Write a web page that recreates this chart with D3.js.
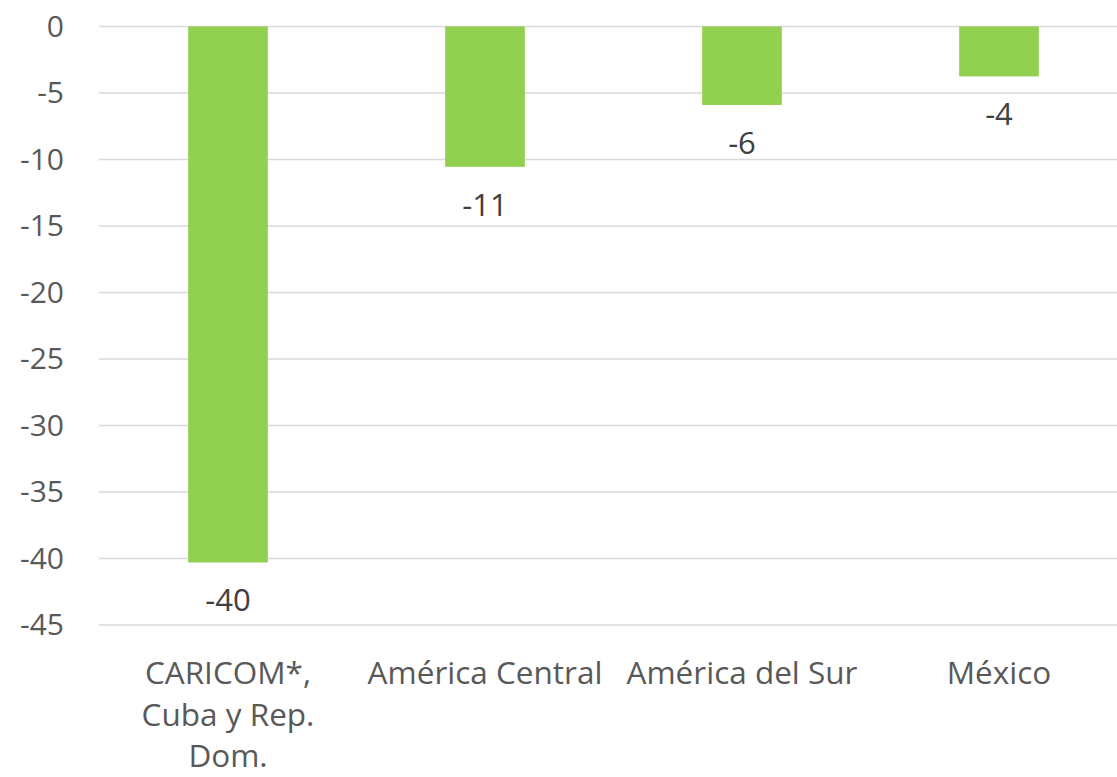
<!DOCTYPE html>
<html>
<head>
<meta charset="utf-8">
<script src="https://cdn.jsdelivr.net/npm/d3@7"></script>
<style>
  body { margin: 0; background: #fff; }
  svg text { font-family: "Open Sans", "Noto Sans", sans-serif; }
</style>
</head>
<body>
<svg id="chart"></svg>
<script>
// data
let categories = [['CARICOM*,', 'Cuba y Rep.', 'Dom.'], ['América Central'], ['América del Sur'], ['México']]
let values = [-40.3, -10.55, -5.9, -3.75]
let labels = ['-40', '-11', '-6', '-4']
let yTicks = [0, -5, -10, -15, -20, -25, -30, -35, -40, -45]

let width = 1117
let height = 777

let svg = d3.select('#chart').attr('width', width).attr('height', height)

let xScale = d3.scaleBand()
  .domain(d3.range(values.length))
  .range([99.5, 1127.5])
  .paddingInner(0.69)
  .paddingOuter(0.345)

let yScale = d3.scaleLinear()
  .domain([0, -45])
  .range([26.5, 625])

// gridlines
svg.append('g')
  .selectAll('line')
  .data(yTicks)
  .enter()
  .append('line')
  .attr('x1', 99)
  .attr('x2', width)
  .attr('y1', d => yScale(d))
  .attr('y2', d => yScale(d))
  .attr('stroke', '#d9d9d9')
  .attr('stroke-width', 1.5)

// y axis labels (plain hyphen, like the original)
let yAxis = d3.axisLeft(yScale).tickValues(yTicks).tickSize(0).tickPadding(0)
  .tickFormat(d => String(d))
let gy = svg.append('g')
  .attr('transform', 'translate(64,0)')
  .call(yAxis)
gy.select('.domain').remove()
gy.selectAll('text')
  .attr('fill', '#595959')
  .style('font-size', '30px')

// bars
svg.selectAll('rect.bar')
  .data(values)
  .enter()
  .append('rect')
  .attr('class', 'bar')
  .attr('x', (d, i) => xScale(i))
  .attr('width', xScale.bandwidth())
  .attr('y', yScale(0))
  .attr('height', d => yScale(d) - yScale(0))
  .attr('fill', '#92d050')

// data labels
svg.selectAll('text.lbl')
  .data(values)
  .enter()
  .append('text')
  .attr('class', 'lbl')
  .attr('x', (d, i) => xScale(i) + xScale.bandwidth() / 2)
  .attr('y', d => yScale(d) + 49)
  .attr('text-anchor', 'middle')
  .attr('fill', '#404040')
  .style('font-size', '31px')
  .text((d, i) => labels[i])

// category labels
let cat = svg.selectAll('text.cat')
  .data(categories)
  .enter()
  .append('text')
  .attr('class', 'cat')
  .attr('text-anchor', 'middle')
  .attr('fill', '#595959')
  .style('font-size', '31.5px')

cat.selectAll('tspan')
  .data((d, i) => d.map(s => ({ s: s, i: i })))
  .enter()
  .append('tspan')
  .attr('x', d => xScale(d.i) + xScale.bandwidth() / 2)
  .attr('y', (d, j) => 684 + j * 41.5)
  .text(d => d.s)
</script>
</body>
</html>
